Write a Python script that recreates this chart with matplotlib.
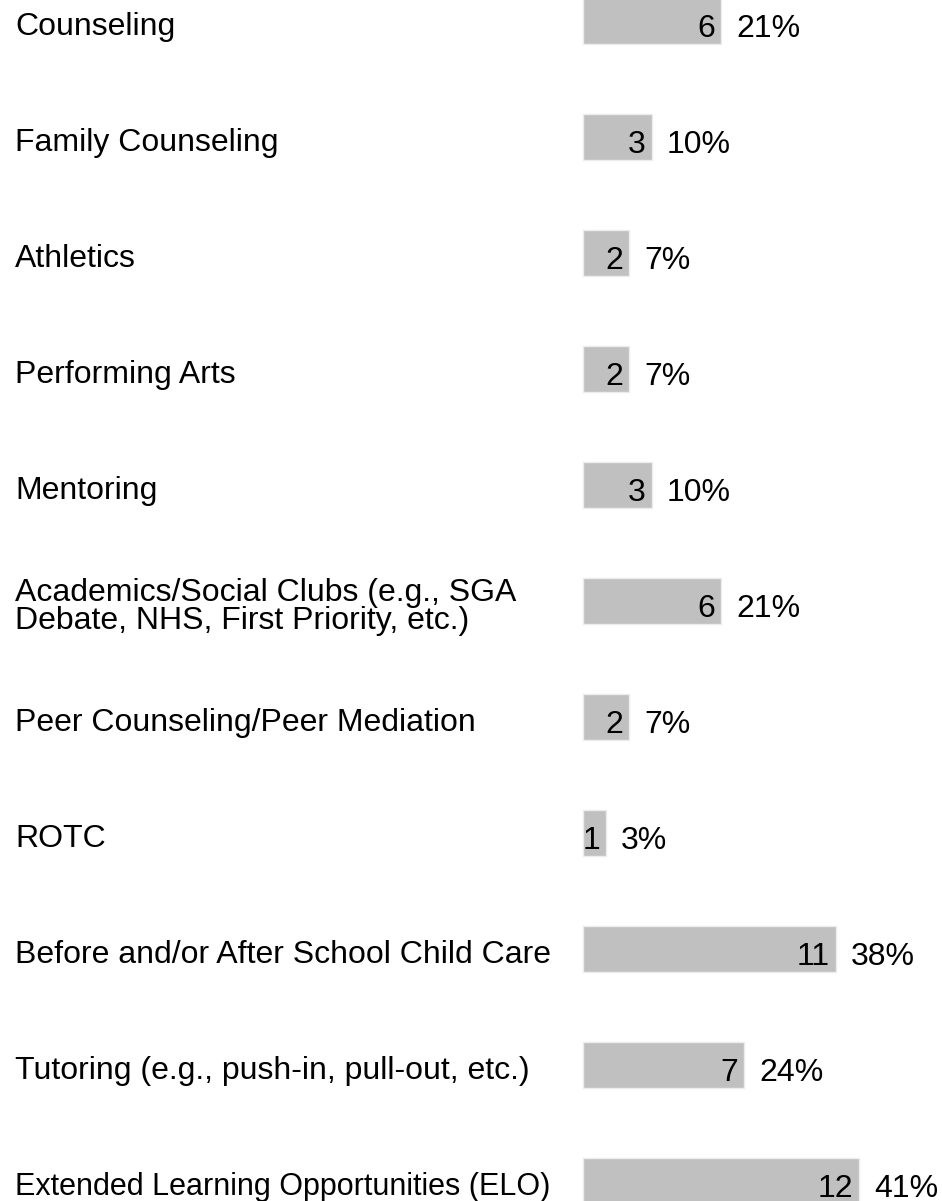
import matplotlib.pyplot as plt
from matplotlib.transforms import blended_transform_factory

# Categories and counts
categories = [
    'Counseling',
    'Family Counseling',
    'Athletics',
    'Performing Arts',
    'Mentoring',
    'Academics/Social Clubs (e.g., SGA\nDebate, NHS, First Priority, etc.)',
    'Peer Counseling/Peer Mediation',
    'ROTC',
    'Before and/or After School Child Care',
    'Tutoring (e.g., push-in, pull-out, etc.)',
    'Extended Learning Opportunities (ELO)',
]
counts = [6, 3, 2, 2, 3, 6, 2, 1, 11, 7, 12]
percents = ['21%', '10%', '7%', '7%', '10%', '21%', '7%', '3%', '38%', '24%', '41%']

W, H = 942, 1201
DPI = 100
BAR_LEFT = 583      # px where bars start
PX_PER_UNIT = 23    # px per count
ROW_STEP = 116      # px between rows
FIRST_ROW = 21      # px centre of first row

plt.rcParams['font.family'] = ['Liberation Sans', 'DejaVu Sans']

fig = plt.figure(figsize=(W / DPI, H / DPI), dpi=DPI)
ax = fig.add_axes([0, 0, 1, 1])

y = list(range(len(categories)))
ax.barh(y, counts, height=46 / ROW_STEP, left=0, color='#c0c0c0',
        edgecolor='#ececec', linewidth=1)

ax.set_xlim(-BAR_LEFT / PX_PER_UNIT, (W - BAR_LEFT) / PX_PER_UNIT)
ax.set_ylim((H - FIRST_ROW) / ROW_STEP, -FIRST_ROW / ROW_STEP)
ax.axis('off')

trans = blended_transform_factory(ax.transAxes, ax.transData)
for i, (label, n, pct) in enumerate(zip(categories, counts, percents)):
    size = 22 if len(label) > 36 and '\n' not in label and 'ELO' in label else 23
    ax.annotate(label, xy=(15 / W, i), xycoords=trans,
                xytext=(0, -6), textcoords='offset pixels',
                ha='left', va='center', fontsize=size, linespacing=0.95)
    ax.annotate(str(n), xy=(n, i), xytext=(-6, -8), textcoords='offset pixels',
                ha='right', va='center', fontsize=23)
    ax.annotate(pct, xy=(n, i), xytext=(15, -8), textcoords='offset pixels',
                ha='left', va='center', fontsize=23)

fig.savefig('out.png', dpi=DPI)
